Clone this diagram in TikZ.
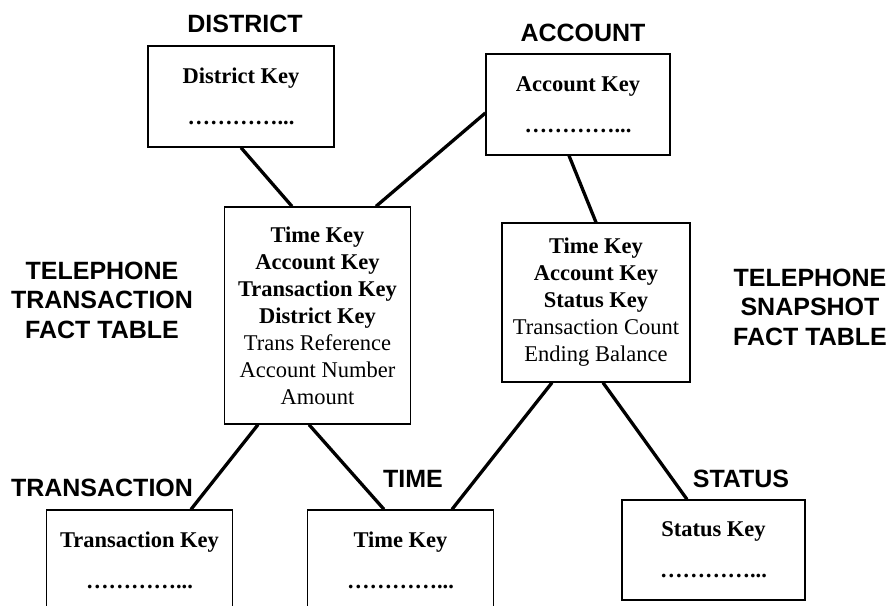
\documentclass[tikz,border=0pt]{standalone}
\usepackage{fontspec}
\setmainfont{Liberation Serif}
\newfontfamily\labelfont{Liberation Sans}

\begin{document}
\begin{tikzpicture}[x=1pt,y=-1pt,
  dimbox/.style={draw,line width=1.3pt,minimum width=186pt,minimum height=101pt,align=center,inner sep=0pt,font=\fontsize{22.5}{27}\selectfont\bfseries},
  factbox/.style={draw,line width=1.3pt,minimum width=186pt,align=center,inner sep=0pt,font=\fontsize{22.5}{27}\selectfont},
  tablelabel/.style={align=center,font=\labelfont\bfseries\fontsize{25}{29.5}\selectfont},
  link/.style={line width=3.3pt}]
\useasboundingbox (0,0) rectangle (890,605);
\clip (0,0) rectangle (890,605);
% dimension tables
\node[tablelabel] (districtlbl) at (245,24) {DISTRICT};
\node[dimbox] (district) at (241,96.5) {District Key\\[14pt]…………...};
\node[tablelabel] (accountlbl) at (583,33) {ACCOUNT};
\node[dimbox,minimum width=184pt] (account) at (578,104.5) {Account Key\\[14pt]…………...};
\node[tablelabel] (translbl) at (102,488) {TRANSACTION};
\node[dimbox] (trans) at (139.5,560.5) {Transaction Key\\[14pt]…………...};
\node[tablelabel] (timelbl) at (413,479) {TIME};
\node[dimbox] (timekey) at (400.5,560.5) {Time Key\\[14pt]…………...};
\node[tablelabel] (statuslbl) at (741,479) {STATUS};
\node[dimbox,minimum width=183pt,minimum height=100pt] (status) at (713.5,550) {Status Key\\[14pt]…………...};
% fact tables
\node[tablelabel] (factlbl) at (102,300) {TELEPHONE\\TRANSACTION\\FACT TABLE};
\node[factbox,minimum height=217pt] (fact) at (317.5,315.5) {\textbf{Time Key}\\\textbf{Account Key}\\\textbf{Transaction Key}\\\textbf{District Key}\\Trans Reference\\Account Number\\Amount};
\node[tablelabel] (snaplbl) at (810,307) {TELEPHONE\\SNAPSHOT\\FACT TABLE};
\node[factbox,minimum width=188pt,minimum height=159pt] (snap) at (596,302.5) {\textbf{Time Key}\\\textbf{Account Key}\\\textbf{Status Key}\\Transaction Count\\Ending Balance};
% links
\draw[link] (district.south) -- ([xshift=-25.5pt]fact.north);
\draw[link] ([yshift=-8.5pt]account.west) -- ([xshift=58.5pt]fact.north);
\draw[link] ([xshift=-9pt]account.south) -- (snap.north);
\draw[link] ([xshift=-59.5pt]fact.south) -- ([xshift=51.5pt]trans.north);
\draw[link] ([xshift=-8.5pt]fact.south) -- ([xshift=-16.5pt]timekey.north);
\draw[link] ([xshift=-44pt]snap.south) -- ([xshift=51.5pt]timekey.north);
\draw[link] ([xshift=7pt]snap.south) -- ([xshift=-26.5pt]status.north);
\end{tikzpicture}
\end{document}
